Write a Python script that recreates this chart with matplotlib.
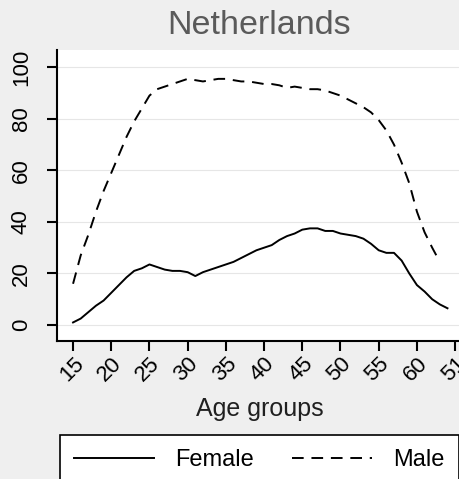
import matplotlib
matplotlib.use("Agg")
import matplotlib.pyplot as plt
from matplotlib.lines import Line2D

plt.rcParams['font.family'] = ['Liberation Sans', 'DejaVu Sans']

# share by single year of age, 15..64
ages_female = list(range(15, 65))
female = [1, 2.5, 5, 7.5, 9.5, 12.5, 15.5, 18.5, 21, 22,
          23.5, 22.5, 21.5, 21, 21, 20.5, 19, 20.5, 21.5, 22.5,
          23.5, 24.5, 26, 27.5, 29, 30, 31, 33, 34.5, 35.5,
          37, 37.5, 37.5, 36.5, 36.5, 35.5, 35, 34.5, 33.5, 31.5,
          29, 28, 28, 25, 20, 15.5, 13, 10, 8, 6.5]

ages_male = list(range(15, 64))
male = [16, 27, 35, 44, 52, 59, 66, 73, 79, 84,
        89, 91.5, 92.5, 93.5, 94.5, 95.5, 95, 94.5, 95, 95.5,
        95.5, 95, 94.5, 94.5, 94, 93.5, 93.5, 93, 92, 92.5,
        92, 91.5, 91.5, 91, 90, 89, 87.5, 86, 84.5, 82.5,
        79.5, 75.5, 70, 63, 55, 44, 36, 30, 24.5]

xticks = [15, 20, 25, 30, 35, 40, 45, 50, 55, 60, 65]
xticklabels = ['15', '20', '25', '30', '35', '40', '45', '50', '55', '60', '51']
yticks = [0, 20, 40, 60, 80, 100]

bg = '#efefef'
dash = (6, 4)
fig = plt.figure(figsize=(4.6, 4.79), dpi=100, facecolor=bg)
ax = fig.add_axes([57/460, 138/479, 405/460, 291/479])
ax.set_facecolor('white')

ax.plot(ages_female, female, color='black', lw=1.4)
ax.plot(ages_male, male, color='black', lw=1.4, dashes=dash)

ax.set_xlim(12.9, 65.9)
ax.set_ylim(-6.2, 106.7)
ax.set_yticks(yticks)
ax.set_yticklabels([str(v) for v in yticks], rotation=90, va='center', fontsize=16)
ax.set_xticks(xticks)
ax.set_xticklabels(xticklabels, rotation=45, ha='right', va='top',
                   rotation_mode='anchor', fontsize=16)
ax.grid(axis='y', color='#e6e6e6', lw=0.8)
ax.set_axisbelow(True)

for s in ['top', 'right']:
    ax.spines[s].set_visible(False)
ax.spines['left'].set_linewidth(1.5)
ax.spines['bottom'].set_linewidth(1.5)
ax.tick_params(direction='out', length=7, width=1.5, colors='black')
ax.tick_params(axis='y', pad=11)
ax.tick_params(axis='x', pad=2)

ax.set_xlabel('Age groups', fontsize=18, color='#202020', labelpad=8)
fig.text(259.5/460, 1 - 25/479, 'Netherlands', fontsize=24.5, color='#5a5a5a',
         ha='center', va='center')

handles = [Line2D([], [], color='black', lw=1.4),
           Line2D([], [], color='black', lw=1.4, dashes=dash)]
leg = fig.legend(handles, ['Female', 'Male'], loc='upper center',
                 bbox_to_anchor=(259.5/460, 1 - 435/479), borderaxespad=0,
                 ncol=2, fontsize=17, fancybox=False, edgecolor='black',
                 framealpha=1, handlelength=3.4, handletextpad=0.9,
                 columnspacing=1.6, borderpad=0.6)
leg.get_frame().set_linewidth(1.2)

fig.savefig('out.png', dpi=100, facecolor=bg)
